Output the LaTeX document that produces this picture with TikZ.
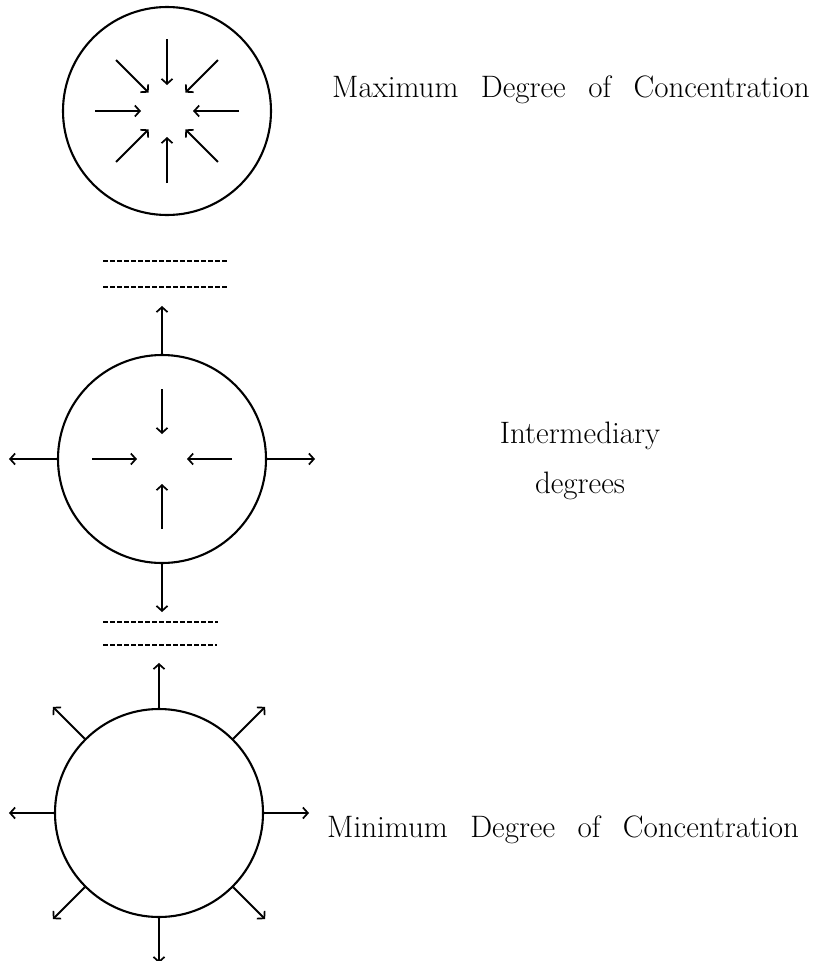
\documentclass[tikz,border=0pt]{standalone}
\usetikzlibrary{arrows.meta,calc}
\newcommand{\lblfont}{\fontsize{31}{50}\selectfont\spaceskip=22.5pt\relax}
\begin{document}
\begin{tikzpicture}[x=1pt,y=-1pt,
  ring/.style={circle, draw, line width=2.1pt, inner sep=0pt, minimum size=208pt},
  arr/.style={line width=1.9pt, -{Straight Barb[length=5pt,width=11pt,line width=1.7pt]}},
  dline/.style={line width=1.4pt, dash pattern=on 4.5pt off 2.5pt},
  lbl/.style={font=\lblfont, inner sep=0pt}]
\fill[white] (0,0) rectangle (814,961);
\useasboundingbox (0,0) rectangle (814,961);

% circles
\node[ring] (c1) at (167,111) {};
\node[ring] (c2) at (162,459) {};
\node[ring] (c3) at (159,813) {};

% top circle: eight inward arrows
\foreach \a in {0,45,...,315}
  \draw[arr] ($(c1.center)+(\a:72pt)$) -- ($(c1.center)+(\a:26pt)$);

% dashed lines
\coordinate (d1a) at (103,261); \coordinate (d1b) at (228,261);
\coordinate (d2a) at (103,287); \coordinate (d2b) at (228,287);
\coordinate (d3a) at (103,622); \coordinate (d3b) at (218,622);
\coordinate (d4a) at (103,645); \coordinate (d4b) at (217,645);
\draw[dline] (d1a) -- (d1b);
\draw[dline] (d2a) -- (d2b);
\draw[dline] (d3a) -- (d3b);
\draw[dline] (d4a) -- (d4b);

% middle circle: four inward, four outward
\foreach \a in {0,90,180,270}
  \draw[arr] ($(c2.center)+(\a:70pt)$) -- ($(c2.center)+(\a:25pt)$);
\foreach \a in {0,90,180,270}
  \draw[arr] (c2.\a) -- ($(c2.\a)+(\a:48pt)$);

% bottom circle: eight outward arrows
\foreach \a in {0,45,...,315}
  \draw[arr] (c3.\a) -- ($(c3.\a)+(\a:45pt)$);

% labels
\node[lbl, anchor=base west] (tmax) at (332,97) {Maximum Degree of Concentration};
\node[lbl, anchor=north, align=center] (tint) at (580,422) {Intermediary\\degrees};
\node[lbl, anchor=base west] (tmin) at (327,837) {Minimum Degree of Concentration};
\end{tikzpicture}
\end{document}
